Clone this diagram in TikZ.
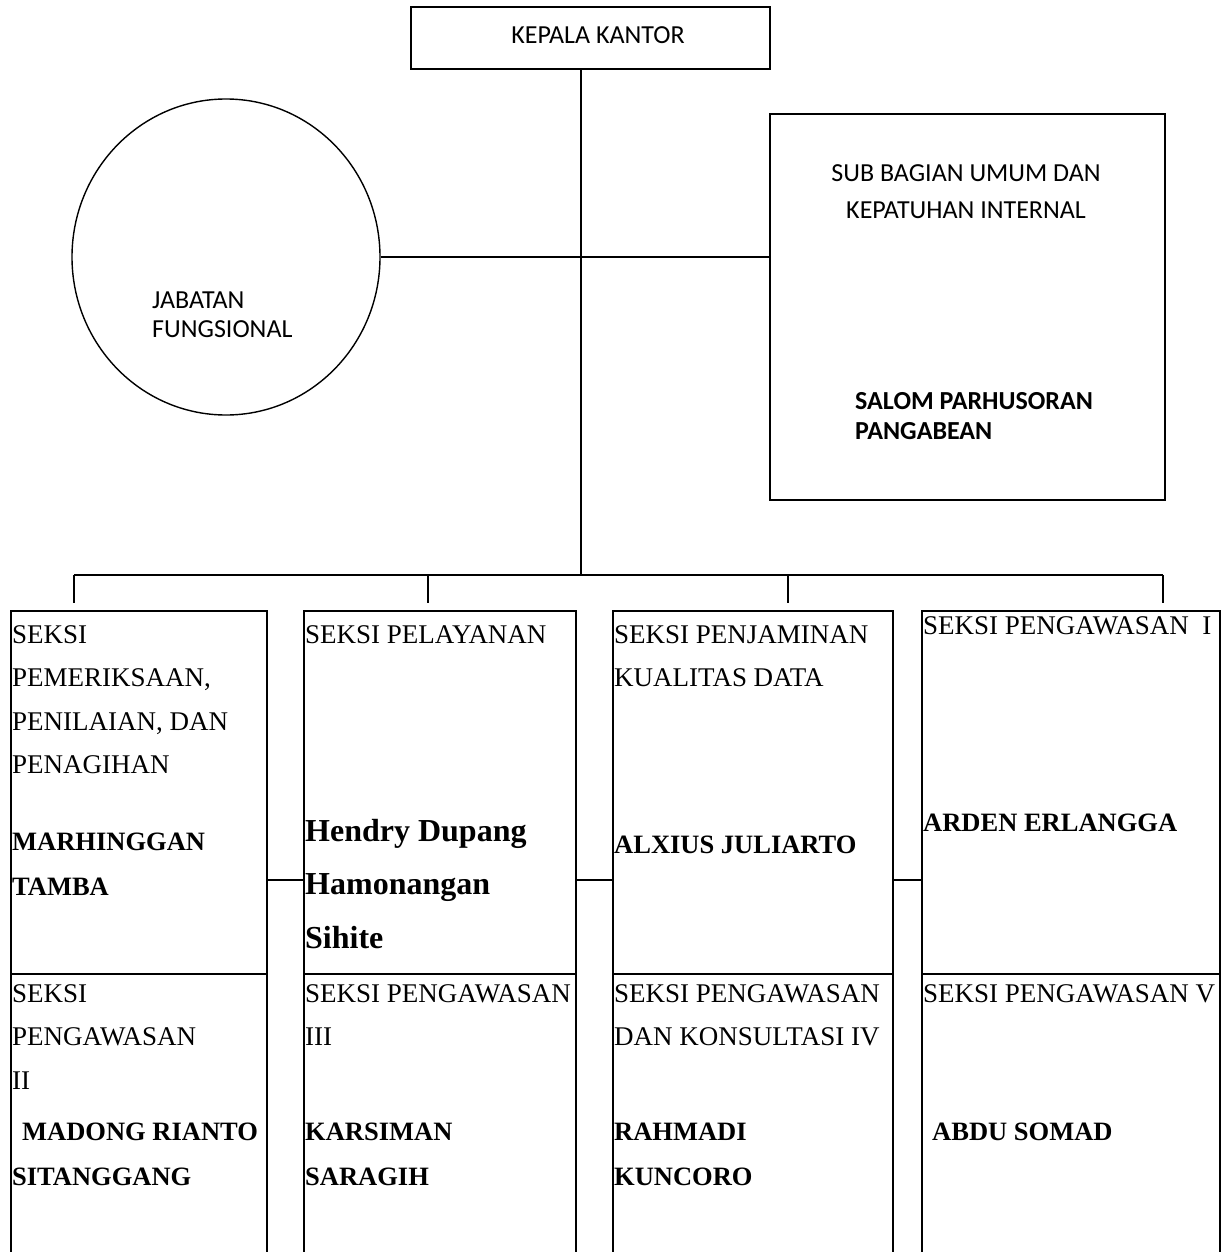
\documentclass[tikz,border=0pt]{standalone}
\usepackage{fontspec}
\setmainfont{Liberation Serif}
\newfontfamily\calibfont{Carlito}
\usetikzlibrary{shapes.geometric}
\tikzset{
  box/.style={draw, line width=1.8pt, inner sep=0pt, anchor=north west},
  cell/.style={draw, line width=2.3pt, inner sep=0pt, anchor=north west},
  link/.style={line width=1.6pt},
  bus/.style={line width=2.2pt},
  sanstxt/.style={font=\calibfont\fontsize{26}{29}\selectfont, inner sep=0pt},
  reg/.style={font=\fontsize{27}{43.5}\selectfont, inner sep=0pt, anchor=north west, align=left},
  nm/.style={font=\bfseries\fontsize{26.5}{45}\selectfont, inner sep=0pt, anchor=north west, align=left},
}
\begin{document}
\begin{tikzpicture}[x=1pt,y=-1pt]
\useasboundingbox (0,0) rectangle (1225,1252);
\fill[white] (0,0) rectangle (1225,1252);

% top
\node[box, line width=1.6pt, minimum width=359pt, minimum height=62pt] (kk) at (410,6) {};
\node[sanstxt] (kkt) at (598,35) {KEPALA KANTOR};

% functional circle
\node[draw, ellipse, line width=1.4pt, minimum width=308pt, minimum height=316pt, inner sep=0pt] (jf) at (226,257) {};
\node[sanstxt, anchor=north west, align=left] (jft) at (152,292) {JABATAN\\FUNGSIONAL};

% sub bagian
\node[box, minimum width=395pt, minimum height=386pt] (sb) at (769,113) {};
\node[sanstxt, anchor=north, align=center, font=\calibfont\fontsize{26}{37}\selectfont] (sbt) at (966,164) {SUB BAGIAN UMUM DAN\\KEPATUHAN INTERNAL};
\node[sanstxt, anchor=north west, align=left, font=\calibfont\bfseries\fontsize{26}{30}\selectfont] (sbn) at (855,392) {SALOM PARHUSORAN\\PANGABEAN};

% spine
\coordinate (hub) at (581,575);
\draw[link] (kk.south -| hub) -- (hub);
\draw[link] (jf.east) -- (sb.west |- jf.east);

% bus
\coordinate (t1) at (74,575);
\coordinate (t2) at (428,575);
\coordinate (t3) at (788,575);
\coordinate (t4) at (1163,575);
\draw[bus] (t1) -- (t4);
\foreach \t in {t1,t2,t3,t4} \draw[bus] (\t) -- ++(0,28);

% row 1 cells
\node[cell, minimum width=256pt, minimum height=363pt] (c1) at (10,610) {};
\node[cell, minimum width=272pt, minimum height=363pt] (c2) at (303,610) {};
\node[cell, minimum width=280pt, minimum height=363pt] (c3) at (612,610) {};
\node[cell, minimum width=298pt, minimum height=363pt] (c4) at (921,610) {};
% row 2 cells (open at the bottom of the page)
\node[cell, minimum width=256pt, minimum height=292pt] (r1) at (10,973) {};
\node[cell, minimum width=272pt, minimum height=292pt] (r2) at (303,973) {};
\node[cell, minimum width=280pt, minimum height=292pt] (r3) at (612,973) {};
\node[cell, minimum width=298pt, minimum height=292pt] (r4) at (921,973) {};

% links between cells
\coordinate (lv) at (0,880);
\draw[bus] (c1.east |- lv) -- (c2.west |- lv);
\draw[bus] (c2.east |- lv) -- (c3.west |- lv);
\draw[bus] (c3.east |- lv) -- (c4.west |- lv);

% row 1 texts
\node[reg] (c1t) at (12,625) {SEKSI\\PEMERIKSAAN,\\PENILAIAN, DAN\\PENAGIHAN};
\node[nm] (c1n) at (12,833) {MARHINGGAN\\TAMBA};
\node[reg] (c2t) at (305,625) {SEKSI PELAYANAN};
\node[nm, font=\bfseries\fontsize{32}{53.5}\selectfont] (c2n) at (305,819) {Hendry Dupang\\Hamonangan\\Sihite};
\node[reg] (c3t) at (614,625) {SEKSI PENJAMINAN\\KUALITAS DATA};
\node[nm] (c3n) at (614,836) {ALXIUS JULIARTO};
\node[reg] (c4t) at (923,616) {SEKSI PENGAWASAN\ \ I};
\node[nm] (c4n) at (923,814) {ARDEN ERLANGGA};

% row 2 texts
\node[reg] (r1t) at (12,984) {SEKSI\\PENGAWASAN\\II};
\node[nm] (r1n) at (22,1123) {MADONG RIANTO};
\node[nm] (r1m) at (12,1168) {SITANGGANG};
\node[reg] (r2t) at (305,984) {SEKSI PENGAWASAN\\III};
\node[nm] (r2n) at (305,1123) {KARSIMAN\\SARAGIH};
\node[reg] (r3t) at (614,984) {SEKSI PENGAWASAN\\DAN KONSULTASI IV};
\node[nm] (r3n) at (614,1123) {RAHMADI\\KUNCORO};
\node[reg] (r4t) at (923,984) {SEKSI PENGAWASAN V};
\node[nm] (r4n) at (932,1123) {ABDU SOMAD};
\end{tikzpicture}
\end{document}
